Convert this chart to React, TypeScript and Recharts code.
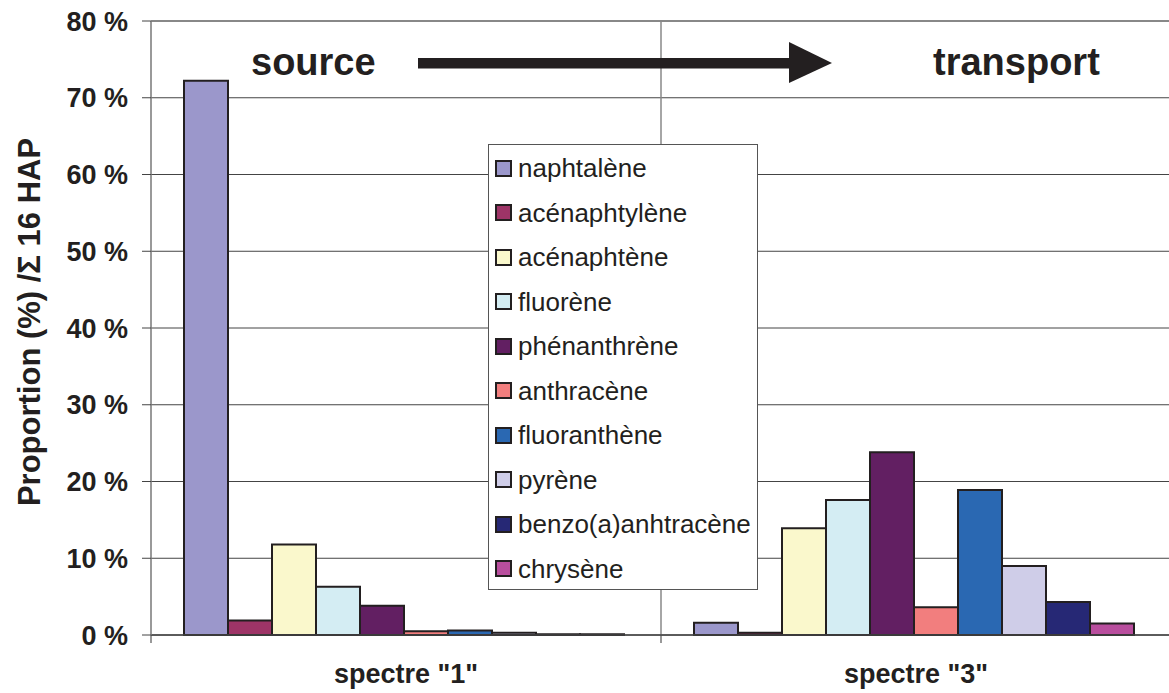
import React from 'react';
import { BarChart, Bar, XAxis, YAxis, CartesianGrid, Legend, Customized, ReferenceLine } from 'recharts';

const categories = ['spectre "1"', 'spectre "3"'];
const seriesNames = [
  'naphtalène',
  'acénaphtylène',
  'acénaphtène',
  'fluorène',
  'phénanthrène',
  'anthracène',
  'fluoranthène',
  'pyrène',
  'benzo(a)anhtracène',
  'chrysène',
];
const spectre1 = [72.2, 1.9, 11.8, 6.3, 3.8, 0.5, 0.6, 0.3, 0.1, 0.1];
const spectre3 = [1.6, 0.3, 13.9, 17.6, 23.8, 3.6, 18.9, 9.0, 4.3, 1.5];
const colors = [
  '#9B97CB',
  '#9E3467',
  '#FAF8CC',
  '#D4EDF3',
  '#621F62',
  '#F27E7E',
  '#2A68B2',
  '#CFCDE8',
  '#262875',
  '#B94E9E',
];
const yTicks = [0, 10, 20, 30, 40, 50, 60, 70, 80];

const seriesValues = [spectre1, spectre3];
const data = categories.map((cat, ci) => {
  const row: Record<string, any> = { cat };
  seriesNames.forEach((_, si) => {
    row['s' + si] = seriesValues[ci][si];
  });
  return row;
});

const FONT = '"Liberation Sans", Arial, Helvetica, sans-serif';
const INK = '#231F20';

const CHART_W = 1172;
const CHART_H = 693;
const MARGIN = { top: 21, right: 1, left: 0, bottom: 0 };
const Y_AXIS_W = 151;
const X_AXIS_H = 58;
const PLOT_LEFT = MARGIN.left + Y_AXIS_W;
const PLOT_RIGHT = CHART_W - MARGIN.right;
const PLOT_BOTTOM = CHART_H - MARGIN.bottom - X_AXIS_H;

const Annotations = () => {
  const catW = (PLOT_RIGHT - PLOT_LEFT) / categories.length;
  const tickXs = categories.map((_, i) => PLOT_LEFT + i * catW);
  return (
    <g>
      {tickXs.map((x, i) => (
        <line key={i} x1={x} x2={x} y1={PLOT_BOTTOM} y2={PLOT_BOTTOM + 8} stroke="#777" strokeWidth={1.5} />
      ))}
      <text
        x={40}
        y={322}
        transform="rotate(-90, 40, 322)"
        textAnchor="middle"
        fontFamily={FONT}
        fontWeight="bold"
        fontSize={31}
        fill={INK}
      >
        Proportion (%) /Σ 16 HAP
      </text>
      <text x={251} y={75} fontFamily={FONT} fontWeight="bold" fontSize={38} fill={INK}>
        source
      </text>
      <text x={933} y={75} fontFamily={FONT} fontWeight="bold" fontSize={38} fill={INK}>
        transport
      </text>
      <rect x={418} y={58} width={374} height={10.5} fill={INK} />
      <polygon points="789,42 832,63 789,83" fill={INK} />
    </g>
  );
};

const CategoryTick = (props: any) => {
  const { x, payload } = props;
  return (
    <text x={x} y={PLOT_BOTTOM + 48} textAnchor="middle" fontFamily={FONT} fontWeight="bold" fontSize={27} fill={INK}>
      {payload.value}
    </text>
  );
};

const LegendBox = () => (
  <div
    style={{
      width: 270,
      height: 446,
      boxSizing: 'border-box',
      border: '1.5px solid #555',
      background: '#fff',
      padding: '1px 0 0 6px',
      fontFamily: FONT,
    }}
  >
    {seriesNames.map((name, i) => (
      <div key={name} style={{ display: 'flex', alignItems: 'center', height: 44.5 }}>
        <div
          style={{
            width: 17,
            height: 17,
            boxSizing: 'border-box',
            background: colors[i],
            border: `2.5px solid ${INK}`,
            marginRight: 6,
          }}
        />
        <span style={{ fontSize: 26, color: INK, lineHeight: 1 }}>{name}</span>
      </div>
    ))}
  </div>
);

export default function App() {
  return (
    <div
      style={{
        position: 'absolute',
        left: 0,
        top: 0,
        width: 1169,
        height: 693,
        overflow: 'hidden',
        background: '#fff',
      }}
    >
      <BarChart
        width={CHART_W}
        height={CHART_H}
        data={data}
        margin={MARGIN}
        barCategoryGap={33}
        barGap={0}
      >
        <CartesianGrid horizontal={true} vertical={false} stroke="#444" strokeWidth={1} />
        <CartesianGrid
          horizontal={false}
          vertical={true}
          stroke="#888"
          strokeWidth={1.5}
          verticalCoordinatesGenerator={({ offset }: any) => [offset.left + offset.width / 2]}
        />
        <ReferenceLine y={80} stroke="#888" strokeWidth={2} />
        <XAxis
          dataKey="cat"
          height={X_AXIS_H}
          axisLine={{ stroke: '#444', strokeWidth: 1.5 }}
          tickLine={false}
          tickMargin={0}
          tick={<CategoryTick />}
          interval={0}
        />
        <YAxis
          width={Y_AXIS_W}
          domain={[0, 80]}
          ticks={yTicks}
          interval={0}
          tickFormatter={(v: number) => `${v} %`}
          axisLine={{ stroke: '#777', strokeWidth: 1.5 }}
          tickLine={{ stroke: '#444', strokeWidth: 1 }}
          tickSize={9}
          tickMargin={14}
          tick={{ fontFamily: FONT, fontWeight: 'bold', fontSize: 27, fill: INK }}
        />
        <Legend
          layout="vertical"
          align="center"
          verticalAlign="middle"
          wrapperStyle={{ position: 'absolute', left: 488, top: 144, width: 270, height: 446 }}
          content={() => <LegendBox />}
        />
        {seriesNames.map((name, i) => (
          <Bar
            key={name}
            dataKey={'s' + i}
            name={name}
            fill={colors[i]}
            stroke={INK}
            strokeWidth={2}
            isAnimationActive={false}
          />
        ))}
        <Customized component={Annotations} />
      </BarChart>
    </div>
  );
}
